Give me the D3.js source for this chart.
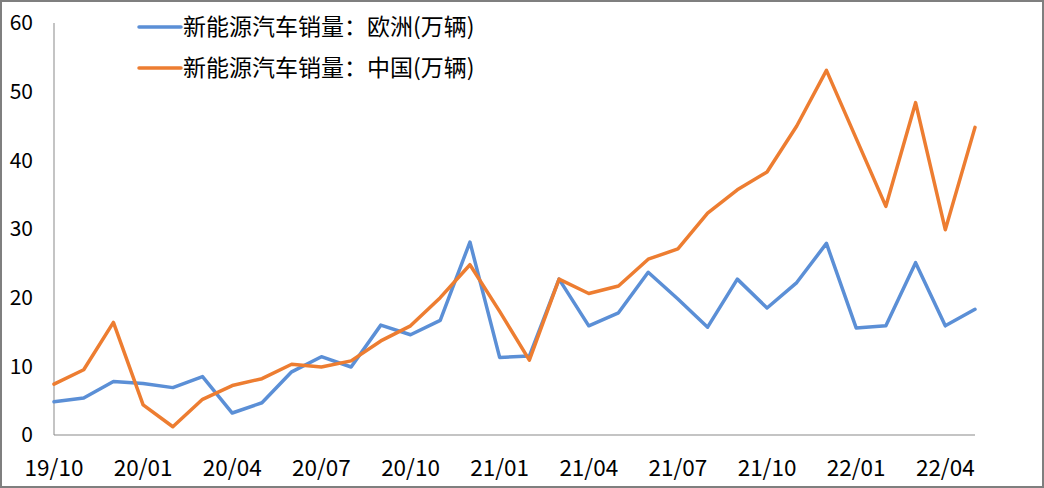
<!DOCTYPE html>
<html>
<head>
<meta charset="utf-8">
<script src="https://cdn.jsdelivr.net/npm/d3@7"></script>
<style>
  body { margin: 0; background: #fff; }
  svg { display: block; font-family: "Noto Sans CJK SC", "Open Sans", sans-serif; }
</style>
</head>
<body>
<div id="chart"></div>
<script>
// months 19/10 .. 22/05
const months = ["19/10","19/11","19/12","20/01","20/02","20/03","20/04","20/05","20/06","20/07","20/08","20/09",
  "20/10","20/11","20/12","21/01","21/02","21/03","21/04","21/05","21/06","21/07","21/08","21/09",
  "21/10","21/11","21/12","22/01","22/02","22/03","22/04","22/05"];
const tickLabels = ["19/10","20/01","20/04","20/07","20/10","21/01","21/04","21/07","21/10","22/01","22/04"];
const yTicks = [0, 10, 20, 30, 40, 50, 60];

const europe = [4.85, 5.4, 7.8, 7.5, 6.9, 8.5, 3.2, 4.7, 9.2, 11.4, 9.9, 16.0,
  14.6, 16.7, 28.1, 11.3, 11.5, 22.7, 15.9, 17.8, 23.7, 19.8, 15.7, 22.7,
  18.5, 22.2, 27.9, 15.6, 15.9, 25.1, 15.9, 18.3];
const china = [7.4, 9.5, 16.4, 4.4, 1.2, 5.2, 7.2, 8.2, 10.3, 9.9, 10.8, 13.7,
  15.9, 20.0, 24.8, 18.0, 10.9, 22.7, 20.6, 21.7, 25.6, 27.1, 32.3, 35.7,
  38.3, 45.0, 53.1, 43.2, 33.3, 48.4, 29.9, 44.8];

const seriesNames = ["新能源汽车销量：欧洲(万辆)", "新能源汽车销量：中国(万辆)"];
const colors = ["#5b8fd6", "#ed7d31"];

const width = 1044, height = 488;
const svg = d3.select("#chart").append("svg")
  .attr("width", width)
  .attr("height", height);

// outer frame
svg.append("rect")
  .attr("x", 1).attr("y", 1)
  .attr("width", width - 2).attr("height", height - 2)
  .attr("fill", "#fff")
  .attr("stroke", "#7f7f7f")
  .attr("stroke-width", 2);

const x = d3.scalePoint().domain(months).range([54, 975]);
const y = d3.scaleLinear().domain([0, 60]).range([435, 23]);

// axes lines
svg.append("line")
  .attr("x1", 54).attr("x2", 54)
  .attr("y1", y(60)).attr("y2", y(0))
  .attr("stroke", "#898989").attr("stroke-width", 1);
svg.append("line")
  .attr("x1", 54).attr("x2", 975)
  .attr("y1", y(0)).attr("y2", y(0))
  .attr("stroke", "#898989").attr("stroke-width", 1);

// y labels
svg.selectAll(".ylab")
  .data(yTicks)
  .enter()
  .append("text")
  .attr("x", 33)
  .attr("y", d => y(d))
  .attr("dy", "0.35em")
  .attr("text-anchor", "end")
  .attr("font-size", 21)
  .attr("fill", "#000")
  .text(d => d);

// x labels
svg.selectAll(".xlab")
  .data(tickLabels)
  .enter()
  .append("text")
  .attr("x", d => x(d))
  .attr("y", 468)
  .attr("dy", "0.35em")
  .attr("text-anchor", "middle")
  .attr("font-size", 22.5)
  .attr("fill", "#000")
  .text(d => d);

const line = d3.line()
  .x((d, i) => x(months[i]))
  .y(d => y(d));

[europe, china].forEach((s, k) => {
  svg.append("path")
    .datum(s)
    .attr("d", line)
    .attr("fill", "none")
    .attr("stroke", colors[k])
    .attr("stroke-width", 3.5)
    .attr("stroke-linejoin", "round")
    .attr("stroke-linecap", "round");
});

// legend
seriesNames.forEach((name, k) => {
  const ly = 27 + k * 41;
  svg.append("line")
    .attr("x1", 139).attr("x2", 181)
    .attr("y1", ly).attr("y2", ly)
    .attr("stroke", colors[k])
    .attr("stroke-width", 3.5)
    .attr("stroke-linecap", "round");
  svg.append("text")
    .attr("x", 183)
    .attr("y", ly)
    .attr("dy", "0.35em")
    .attr("font-size", 23)
    .attr("fill", "#000")
    .text(name);
});
</script>
</body>
</html>
